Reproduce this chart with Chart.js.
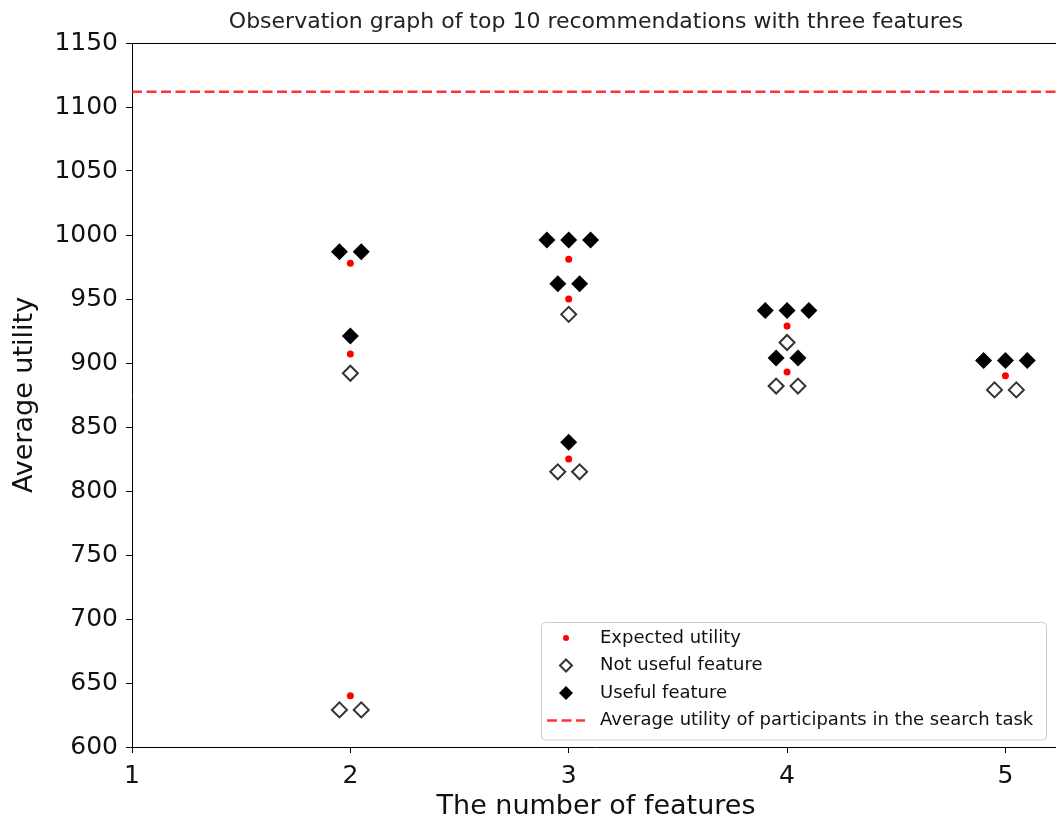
<!DOCTYPE html>
<html>
<head>
<meta charset="utf-8">
<script src="https://cdn.jsdelivr.net/npm/chart.js@4.4.0/dist/chart.umd.min.js"></script>
<style>
  html, body { margin: 0; padding: 0; background: #fff; overflow: hidden; }
  #chart { display: block; }
</style>
</head>
<body>
<canvas id="chart" width="1060" height="823"></canvas>
<script>
// tick labels
const xTicks = [1, 2, 3, 4, 5];
const yTicks = [600, 650, 700, 750, 800, 850, 900, 950, 1000, 1050, 1100, 1150];

// expected utility (red dots)
const expectedX = [2, 2, 2, 3, 3, 3, 4, 4, 5];
const expectedY = [978, 907, 640, 981, 950, 825, 929, 893, 890];

// not useful feature (open diamonds)
const notUsefulX = [2, 1.95, 2.05, 3, 2.95, 3.05, 4, 3.95, 4.05, 4.95, 5.05];
const notUsefulY = [892, 629, 629, 938, 815, 815, 916, 882, 882, 879, 879];

// useful feature (filled diamonds)
const usefulX = [1.95, 2.05, 2, 2.9, 3, 3.1, 2.95, 3.05, 3, 3.9, 4, 4.1, 3.95, 4.05, 4.9, 5, 5.1];
const usefulY = [987, 987, 921, 996, 996, 996, 962, 962, 838, 941, 941, 941, 904, 904, 902, 902, 902];

// average utility of participants in the search task
const searchAverage = 1112;

const xMin = 1, xMax = 5.25;
const yMin = 600, yMax = 1150;

const FONT = "'DejaVu Sans', sans-serif";
const toPoints = (xs, ys) => xs.map((x, i) => ({ x: x, y: ys[i] }));

function drawMarker(ctx, style, x, y, r) {
    if (style === 'circle') {
        ctx.arc(x, y, r, 0, Math.PI * 2);
    } else {
        ctx.moveTo(x, y - r);
        ctx.lineTo(x + r, y);
        ctx.lineTo(x, y + r);
        ctx.lineTo(x - r, y);
        ctx.closePath();
    }
}

// title, top spine and the legend box inside the plot
const extras = {
    id: 'extras',
    afterDraw(chart) {
        const ctx = chart.ctx;
        const area = chart.chartArea;
        ctx.save();

        // top spine
        ctx.strokeStyle = '#000';
        ctx.lineWidth = 1;
        ctx.beginPath();
        ctx.moveTo(area.left, Math.round(area.top) + 0.5);
        ctx.lineTo(area.right, Math.round(area.top) + 0.5);
        ctx.stroke();

        // title
        ctx.fillStyle = '#222';
        ctx.font = '22px ' + FONT;
        ctx.textAlign = 'center';
        ctx.textBaseline = 'middle';
        ctx.fillText('Observation graph of top 10 recommendations with three features', (area.left + area.right) / 2, 22);

        // legend
        const bx = 541.5, by = 622.5, bw = 505, bh = 117.5;
        ctx.fillStyle = 'rgba(255,255,255,0.8)';
        ctx.strokeStyle = '#cccccc';
        ctx.lineWidth = 1;
        ctx.beginPath();
        ctx.roundRect(bx, by, bw, bh, 4);
        ctx.fill();
        ctx.stroke();

        const rowY = [638, 665.5, 693, 720.5];
        const mx = 566;
        chart.data.datasets.forEach((ds, i) => {
            const y = rowY[i];
            if (ds.showLine) {
                ctx.strokeStyle = ds.borderColor;
                ctx.lineWidth = ds.borderWidth;
                ctx.setLineDash(ds.borderDash);
                ctx.beginPath();
                ctx.moveTo(547, y);
                ctx.lineTo(585, y);
                ctx.stroke();
                ctx.setLineDash([]);
            } else {
                ctx.fillStyle = ds.backgroundColor;
                ctx.strokeStyle = ds.borderColor;
                ctx.lineWidth = ds.borderWidth;
                ctx.beginPath();
                drawMarker(ctx, ds.pointStyle, mx, y, ds.legendRadius);
                ctx.fill();
                if (ds.borderWidth > 0) ctx.stroke();
            }
            ctx.fillStyle = '#111';
            ctx.font = '18px ' + FONT;
            ctx.textAlign = 'left';
            ctx.textBaseline = 'middle';
            ctx.fillText(ds.label, 600, y);
        });
        ctx.restore();
    }
};

const ctx = document.getElementById('chart').getContext('2d');
const chart = new Chart(ctx, {
    type: 'scatter',
    data: {
        datasets: [{
            label: 'Expected utility',
            data: toPoints(expectedX, expectedY),
            pointStyle: 'circle',
            pointRadius: 3.5,
            legendRadius: 3,
            backgroundColor: '#ff0000',
            borderColor: '#ff0000',
            borderWidth: 0,
            order: 3
        }, {
            label: 'Not useful feature',
            data: toPoints(notUsefulX, notUsefulY),
            pointStyle: 'rectRot',
            pointRadius: 7.5,
            legendRadius: 6,
            backgroundColor: '#ffffff',
            borderColor: '#333333',
            borderWidth: 2,
            order: 2
        }, {
            label: 'Useful feature',
            data: toPoints(usefulX, usefulY),
            pointStyle: 'rectRot',
            pointRadius: 8.5,
            legendRadius: 7,
            backgroundColor: '#000000',
            borderColor: '#000000',
            borderWidth: 0,
            order: 1
        }, {
            label: 'Average utility of participants in the search task',
            data: [{ x: xMin, y: searchAverage }, { x: xMax, y: searchAverage }],
            showLine: true,
            pointRadius: 0,
            borderColor: 'rgba(255,0,0,0.8)',
            backgroundColor: 'rgba(255,0,0,0.8)',
            borderWidth: 2.5,
            borderDash: [10, 4.5],
            order: 0
        }]
    },
    options: {
        responsive: false,
        animation: false,
        layout: { autoPadding: false, padding: { top: 43, left: 0, right: 0, bottom: 0 } },
        plugins: {
            legend: { display: false },
            tooltip: { enabled: false },
            title: { display: false }
        },
        scales: {
            x: {
                type: 'linear',
                min: xMin,
                max: xMax,
                afterBuildTicks: (scale) => { scale.ticks = xTicks.map(v => ({ value: v })); },
                afterFit: (scale) => { scale.height = 76; scale.paddingRight = 0; scale.paddingLeft = 0; },
                grid: { display: true, drawOnChartArea: false, tickLength: 6, color: '#000', lineWidth: 1 },
                border: { display: true, color: '#000', width: 1 },
                ticks: {
                    color: '#111', font: { family: FONT, size: 25 }, padding: 8, maxRotation: 0,
                    callback: (v) => String(v)
                },
                title: {
                    display: true,
                    text: 'The number of features',
                    color: '#111',
                    font: { family: FONT, size: 27 },
                    padding: { top: 0, bottom: 0 }
                }
            },
            y: {
                type: 'linear',
                min: yMin,
                max: yMax,
                afterBuildTicks: (scale) => { scale.ticks = yTicks.map(v => ({ value: v })); },
                afterFit: (scale) => { scale.width = 132; },
                grid: { display: true, drawOnChartArea: false, tickLength: 6, color: '#000', lineWidth: 1 },
                border: { display: true, color: '#000', width: 1 },
                ticks: {
                    color: '#111', font: { family: FONT, size: 25 }, padding: 8,
                    callback: (v) => String(v)
                },
                title: {
                    display: true,
                    text: 'Average utility',
                    color: '#111',
                    font: { family: FONT, size: 27 },
                    padding: { top: 9, bottom: 9 }
                }
            }
        }
    },
    plugins: [extras]
});
</script>
</body>
</html>
